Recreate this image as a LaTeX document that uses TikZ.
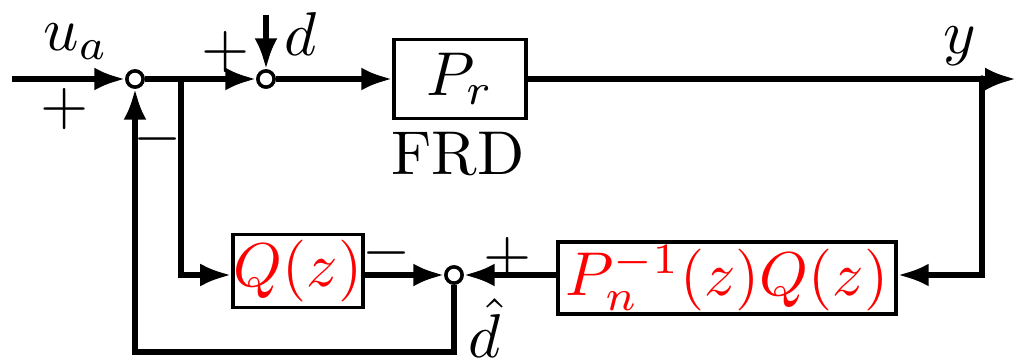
\documentclass[tikz,border=0pt]{standalone}
\usetikzlibrary{arrows.meta}
\begin{document}
\begin{tikzpicture}[x=0.1616pt,y=-0.1616pt,
  line width=0.85pt,
  >={Latex[length=5pt,width=3.7pt]},
  sumnode/.style={circle,draw,fill=white,line width=0.55pt,minimum size=2.6pt,inner sep=0pt},
  blockbox/.style={draw,line width=0.6pt,inner sep=0pt},
  lbl/.style={inner sep=0pt}]
\useasboundingbox (0,0) rectangle (1018,359);
% nodes
\node[sumnode] (s1) at (135,79) {};
\node[sumnode] (s2) at (266,79) {};
\node[sumnode] (s3) at (454,275) {};
\node[blockbox,minimum width=21.3pt,minimum height=12.8pt] (pr) at (460,79) {$P_r$};
\node[blockbox,minimum width=21pt,minimum height=11.8pt] (q) at (298,271) {\color{red}$Q(z)$};
\node[blockbox,minimum width=54.6pt,minimum height=11.6pt] (pq) at (727,278) {\color{red}$P_n^{-1}(z)Q(z)$};
\coordinate (in) at (12,79);
\coordinate (b1) at (181,79);
\coordinate (dtop) at (266,15);
\coordinate (b2) at (982,79);
\coordinate (out) at (1016,79);
\coordinate (bl) at (135,352);
% connectors
\draw[->] (in) -- (s1);
\draw[->] (s1) -- (b1) -- (s2);
\draw[->] (dtop) -- (s2);
\draw[->] (s2) -- (pr.west);
\draw[->] (pr.east) -- (b2) -- (out);
\fill (b2) circle (0.6pt);
\draw[->] (b2) |- (pq.east |- s3);
\draw[->] (pq.west |- s3) -- (s3);
\draw[->] (b1) |- (q.west |- s3);
\draw[->] (q.east |- s3) -- (s3);
\draw[->] (s3) |- (bl) -- (s1);
\node[sumnode] at (s1) {};
\node[sumnode] at (s2) {};
\node[sumnode] at (s3) {};
% labels
\node[lbl] (lua) at (76,42) {$u_a$};
\node[lbl] (lp1) at (65,109) {$+$};
\node[lbl] (lm1) at (158,139) {$-$};
\node[lbl] (lp2) at (226,52) {$+$};
\node[lbl] (ld) at (301,34) {$d$};
\node[lbl] (lfrd) at (458,154) {FRD};
\node[lbl] (ly) at (960,46) {$y$};
\node[lbl] (lm2) at (387,253) {$-$};
\node[lbl] (lp3) at (508,258) {$+$};
\node[lbl] (ldh) at (485,328) {$\hat{d}$};
\end{tikzpicture}
\end{document}
